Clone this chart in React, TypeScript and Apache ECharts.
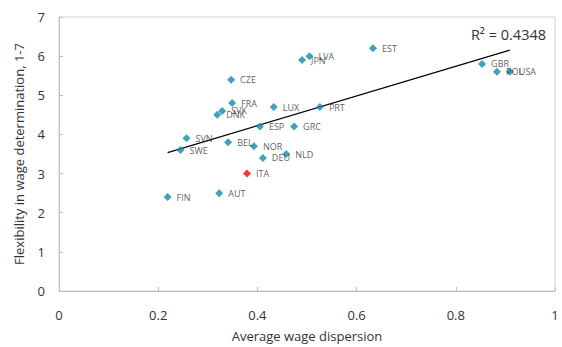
import React, { useEffect, useRef } from "react";
import * as echarts from "echarts";

const countries = ["FIN","AUT","ITA","SWE","SVN","BEL","NOR","DEU","NLD","ESP","GRC","DNK","SVK","FRA","LUX","PRT","CZE","JPN","LVA","EST","GBR","POL","USA"];
const wageDispersion = [0.219,0.323,0.379,0.245,0.257,0.341,0.393,0.411,0.458,0.405,0.474,0.319,0.329,0.349,0.433,0.526,0.347,0.49,0.505,0.633,0.853,0.883,0.909];
const flexibility = [2.4,2.5,3.0,3.6,3.9,3.8,3.7,3.4,3.5,4.2,4.2,4.5,4.6,4.8,4.7,4.7,5.4,5.9,6.0,6.2,5.8,5.6,5.6];
const highlighted = ["ITA"];
const r2Label = "R² = 0.4348";
const xTicks = [0, 0.2, 0.4, 0.6, 0.8, 1];

const FONT = "'Open Sans', 'Noto Sans', sans-serif";
const TEXT = "#333333";
const BLUE = "#1089ad";

function regression(xs: number[], ys: number[]) {
  const n = xs.length;
  const mx = xs.reduce((a, b) => a + b, 0) / n;
  const my = ys.reduce((a, b) => a + b, 0) / n;
  let sxy = 0, sxx = 0;
  for (let i = 0; i < n; i++) {
    sxy += (xs[i] - mx) * (ys[i] - my);
    sxx += (xs[i] - mx) ** 2;
  }
  const slope = sxy / sxx;
  return { slope, intercept: my - slope * mx };
}

export default function App() {
  const ref = useRef<HTMLDivElement>(null);
  useEffect(() => {
    if (!ref.current) return;
    const chart = echarts.init(ref.current, null, { renderer: "svg" });
    const { slope, intercept } = regression(wageDispersion, flexibility);
    const xmin = Math.min(...wageDispersion);
    const xmax = Math.max(...wageDispersion);
    const points = countries.map((c, i) => ({
      name: c,
      value: [wageDispersion[i], flexibility[i]],
      itemStyle: { color: highlighted.includes(c) ? "#ff0000" : BLUE },
    }));
    chart.setOption({
      animation: false,
      textStyle: { fontFamily: FONT },
      grid: {
        left: 59, right: 7, top: 17, bottom: 53,
        show: true, borderColor: "#d0d0d0", borderWidth: 1,
      },
      xAxis: {
        type: "value", min: 0, max: 1, interval: 0.2,
        name: "Average wage dispersion", nameLocation: "middle", nameGap: 38,
        nameTextStyle: { color: TEXT, fontSize: 13, fontFamily: FONT },
        axisLine: { show: true, lineStyle: { color: "#c0c0c0" } },
        axisTick: { show: true, inside: true, length: 4, lineStyle: { color: "#c0c0c0" } },
        axisLabel: {
          color: TEXT, fontSize: 13, margin: 17, fontFamily: FONT,
          formatter: (v: number) => (xTicks.includes(Math.round(v * 10) / 10) ? String(Math.round(v * 10) / 10) : ""),
        },
        splitLine: { show: false },
      },
      yAxis: {
        type: "value", min: 0, max: 7, interval: 1,
        name: "Flexibility in wage determination, 1-7", nameLocation: "middle", nameGap: 34,
        nameTextStyle: { color: TEXT, fontSize: 13, fontFamily: FONT },
        axisLine: { show: true, lineStyle: { color: "#c0c0c0" } },
        axisTick: { show: true, inside: true, length: 4, lineStyle: { color: "#c0c0c0" } },
        axisLabel: { color: TEXT, fontSize: 13, margin: 14, fontFamily: FONT },
        splitLine: { show: false },
      },
      series: [
        {
          type: "line",
          data: [[xmin, intercept + slope * xmin], [xmax, intercept + slope * xmax]],
          symbol: "none",
          lineStyle: { color: "#000000", width: 1.2 },
          silent: true,
          z: 1,
        },
        {
          type: "scatter",
          data: points,
          symbol: "diamond",
          symbolSize: 8,
          z: 2,
          label: {
            show: true, position: "right", distance: 5,
            formatter: (p: any) => p.name,
            color: TEXT, fontSize: 9, fontFamily: FONT,
          },
        },
      ],
      graphic: [
        {
          type: "text", right: 16, top: 27,
          style: { text: r2Label, fill: TEXT, fontSize: 14.5, fontFamily: FONT },
        },
      ],
    });
    return () => chart.dispose();
  }, []);
  return <div ref={ref} style={{ width: 562, height: 347, position: "absolute", left: 0, top: 0 }} />;
}
